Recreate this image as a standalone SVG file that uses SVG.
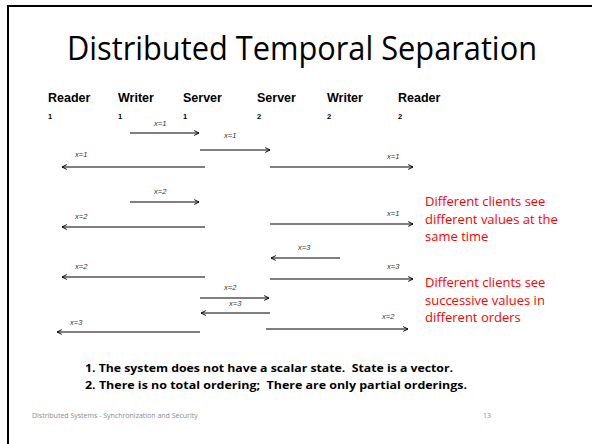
<svg xmlns="http://www.w3.org/2000/svg" width="592" height="444" viewBox="0 0 592 444">
  <style>
    .title { font-family: "Open Sans", "Liberation Sans", sans-serif; font-size: 33px; fill: #000; }
    .hdr { font-family: "Liberation Sans", Arial, sans-serif; font-size: 12.5px; font-weight: bold; fill: #000; }
    .num { font-family: "Liberation Sans", Arial, sans-serif; font-size: 7.5px; font-weight: bold; fill: #000; }
    .lbl { font-family: "Liberation Sans", Arial, sans-serif; font-size: 7.5px; font-style: italic; fill: #333; }
    .note { font-family: "Open Sans", "Liberation Sans", sans-serif; font-size: 13px; fill: #ff0000; }
    .point { font-family: "Open Sans", "Liberation Sans", sans-serif; font-size: 10.5px; font-weight: bold; fill: #000; white-space: pre; }
    .foot { font-family: "Open Sans", "Liberation Sans", sans-serif; font-size: 7px; fill: #8a8a8a; }
    .msg { stroke: #000; stroke-width: 1.2; fill: none; marker-end: url(#head); }
  </style>
  <defs>
    <marker id="head" viewBox="0 0 10 10" refX="9" refY="5" markerWidth="6" markerHeight="6" markerUnits="userSpaceOnUse" orient="auto">
      <path d="M1,1 L9,5 L1,9" fill="none" stroke="#000" stroke-width="1.6"/>
    </marker>
  </defs>
  <rect width="592" height="444" fill="#fff"/>

  <!-- slide frame -->
  <path d="M8,444 L8,6 L592,6" fill="none" stroke="#000" stroke-width="2"/>

  <text class="title" x="67" y="60" textLength="470" lengthAdjust="spacingAndGlyphs">Distributed Temporal Separation</text>

  <!-- process headers -->
  <g id="reader1"><text class="hdr" x="48" y="102">Reader</text><text class="num" x="48" y="119">1</text></g>
  <g id="writer1"><text class="hdr" x="118" y="102">Writer</text><text class="num" x="118" y="119">1</text></g>
  <g id="server1"><text class="hdr" x="183" y="102">Server</text><text class="num" x="183" y="119">1</text></g>
  <g id="server2"><text class="hdr" x="257" y="102">Server</text><text class="num" x="257" y="119">2</text></g>
  <g id="writer2"><text class="hdr" x="327" y="102">Writer</text><text class="num" x="327" y="119">2</text></g>
  <g id="reader2"><text class="hdr" x="398" y="102">Reader</text><text class="num" x="398" y="119">2</text></g>

  <!-- messages -->
  <g id="connectors">
    <line class="msg" x1="130" y1="133" x2="199" y2="133"/>
    <text class="lbl" x="154" y="126">x=1</text>
    <line class="msg" x1="200" y1="150" x2="270" y2="150"/>
    <text class="lbl" x="224" y="138">x=1</text>
    <line class="msg" x1="205" y1="167" x2="62" y2="167"/>
    <text class="lbl" x="75" y="157">x=1</text>
    <line class="msg" x1="270" y1="167" x2="413" y2="167"/>
    <text class="lbl" x="387" y="159">x=1</text>

    <line class="msg" x1="130" y1="202" x2="199" y2="202"/>
    <text class="lbl" x="154" y="194">x=2</text>
    <line class="msg" x1="205" y1="227" x2="62" y2="227"/>
    <text class="lbl" x="75" y="219">x=2</text>
    <line class="msg" x1="270" y1="224" x2="413" y2="224"/>
    <text class="lbl" x="387" y="216">x=1</text>
    <line class="msg" x1="340" y1="258" x2="271" y2="258"/>
    <text class="lbl" x="298" y="250">x=3</text>

    <line class="msg" x1="205" y1="277" x2="62" y2="277"/>
    <text class="lbl" x="75" y="269">x=2</text>
    <line class="msg" x1="270" y1="279" x2="413" y2="279"/>
    <text class="lbl" x="387" y="269">x=3</text>
    <line class="msg" x1="200" y1="298" x2="269" y2="298"/>
    <text class="lbl" x="224" y="290">x=2</text>
    <line class="msg" x1="270" y1="313" x2="201" y2="313"/>
    <text class="lbl" x="229" y="306">x=3</text>
    <line class="msg" x1="200" y1="332" x2="57" y2="332"/>
    <text class="lbl" x="70" y="325">x=3</text>
    <line class="msg" x1="266" y1="329" x2="408" y2="329"/>
    <text class="lbl" x="382" y="319">x=2</text>
  </g>

  <!-- observations -->
  <text class="note" x="425" y="206">Different clients see</text>
  <text class="note" x="425" y="224">different values at the</text>
  <text class="note" x="425" y="241">same time</text>
  <text class="note" x="425" y="287">Different clients see</text>
  <text class="note" x="425" y="305">successive values in</text>
  <text class="note" x="425" y="322">different orders</text>

  <text class="point" x="85" y="372" textLength="368" lengthAdjust="spacingAndGlyphs">1. The system does not have a scalar state.  State is a vector.</text>
  <text class="point" x="85" y="389" textLength="382" lengthAdjust="spacingAndGlyphs">2. There is no total ordering;  There are only partial orderings.</text>

  <text class="foot" x="32" y="418">Distributed Systems - Synchronization and Security</text>
  <text class="foot" x="491" y="418" text-anchor="end">13</text>
</svg>
